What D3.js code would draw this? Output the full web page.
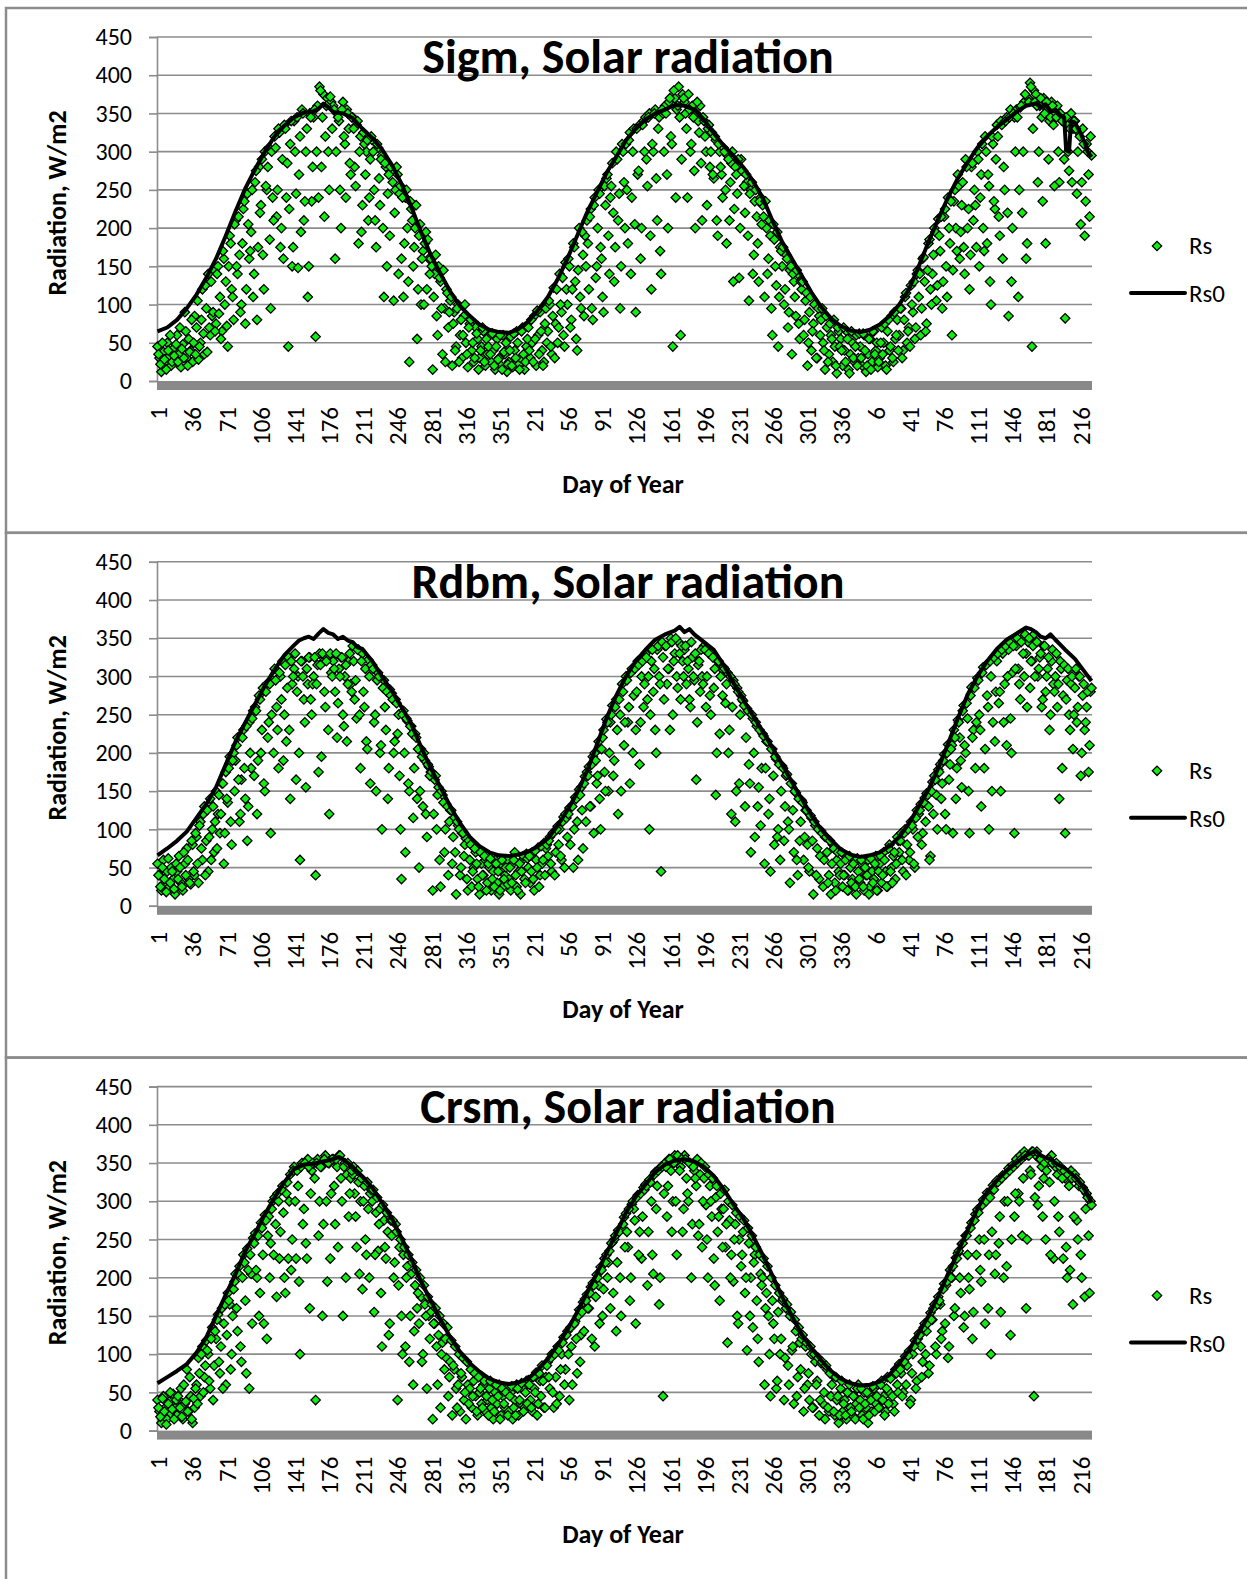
<!DOCTYPE html>
<html>
<head>
<meta charset="utf-8">
<script src="https://cdn.jsdelivr.net/npm/d3@7"></script>
<style>
  body { margin: 0; background: #fff; }
  svg text { font-family: Carlito, Lato, sans-serif; fill: #000; }
</style>
</head>
<body>
<svg id="chart" width="1247" height="1579"></svg>
<script>
// chart titles, one per panel
const titles = ["Sigm, Solar radiation", "Rdbm, Solar radiation", "Crsm, Solar radiation"];

// category labels shown every 35 days (day of year, three years in a row)
const xTickLabels = [1, 36, 71, 106, 141, 176, 211, 246, 281, 316, 351,
                     21, 56, 91, 126, 161, 196, 231, 266, 301, 336,
                     6, 41, 76, 111, 146, 181, 216];
const yTicks = [0, 50, 100, 150, 200, 250, 300, 350, 400, 450];
const nDays = 958;   // number of categories on the x axis

// measured Rs, W/m2, on even day indices (0, 2, 4, ...)
const sigmRs = [
  45,30,12,38,25,50,32,20,42,28, 60,35,18,48,90,30,55,40,25,85,
  70,28,50,120,35,95,140,60,85,145, 75,150,110,65,160,130,45,190,120,80,
  210,140,165,100,225,75,245,160,195,110, 260,80,280,230,165,300,250,305,95,240,
  320,215,330,175,290,335,240,45,310,150, 340,245,148,320,355,210,300,110,350,235,
  345,58,360,385,280,375,320,370,250,365, 360,160,350,340,200,365,310,355,330,270,
  345,280,335,180,320,230,310,300,210,290, 315,250,175,305,230,295,110,280,245,190,
  275,105,250,270,245,160,110,240,200,25, 225,150,200,55,190,100,170,180,120,160,
  160,15,140,85,150,130,35,95,120,70, 105,20,90,45,100,60,30,85,50,18,
  75,40,25,70,55,30,45,65,20,35, 60,25,40,15,55,30,20,60,35,12,
  25,58,18,40,65,22,30,70,15,45, 70,30,50,85,20,60,90,40,25,95,
  65,100,35,122,75,50,140,90,60,155, 100,150,80,180,130,40,200,95,165,190,
  210,120,225,80,240,150,250,175,110,255, 265,190,240,285,130,300,210,95,310,260,
  310,180,325,240,330,90,270,335,200,340, 345,255,350,120,300,355,210,345,140,350,
  360,270,365,320,45,370,355,385,60,375, 365,330,375,300,360,275,350,340,360,210,
  340,300,330,280,325,265,315,190,300,270, 305,250,295,210,285,130,280,245,135,290,
  275,220,260,105,250,140,235,215,130,240, 230,110,200,160,190,60,185,125,45,175,
  150,100,165,70,145,35,130,85,140,55, 120,60,105,20,90,40,75,100,30,85,
  80,50,15,70,35,60,25,45,10,65, 55,20,40,65,15,35,50,25,60,30,
  45,20,60,12,35,55,25,65,40,18, 30,70,50,20,65,40,85,25,55,80,
  60,95,40,110,50,70,125,90,55,140, 110,60,160,130,75,180,120,140,200,105,
  212,170,95,215,150,240,180,60,235,200, 270,160,230,175,290,200,120,280,210,230,
  300,150,270,200,320,180,255,100,310,225, 335,215,340,160,250,345,85,355,200,345,
  355,110,358,220,365,160,370,390,45,380, 375,260,360,345,370,180,355,340,365,335,
  350,360,260,345,340,82,335,275,350,330, 340,245,325,205,330,190,310,270,320
];
// measured Rs, W/m2, on odd day indices (1, 3, 5, ...)
const sigmRsOdd = [
  35,22,50,28,15,40,60,25,33,48, 25,70,42,30,65,20,38,80,50,35,
  105,45,80,62,125,38,70,130,90,65, 140,88,55,170,100,72,150,180,110,205,
  150,215,90,180,235,120,205,170,250,140, 275,175,220,290,120,255,280,185,300,210,
  305,250,325,200,160,330,285,225,340,175, 300,345,270,195,350,235,330,150,345,280,
  355,300,240,380,345,215,360,300,372,330, 355,300,345,250,355,320,240,350,285,345,
  330,255,340,300,195,325,270,315,240,320, 300,210,310,265,290,200,285,150,270,280,
  260,220,280,140,255,240,180,250,130,235, 210,175,230,120,205,160,100,195,185,140,
  150,110,165,60,135,95,145,25,115,90, 110,75,40,95,25,80,60,100,35,70,
  80,50,30,62,15,40,70,25,55,45, 35,62,20,45,28,60,15,38,50,22,
  40,20,62,30,50,15,65,35,25,55, 40,80,25,55,92,35,65,20,75,50,
  105,45,85,30,120,70,100,135,45,120, 160,70,120,175,55,145,110,195,85,150,
  180,215,95,230,135,200,245,160,90,230, 270,140,255,220,175,290,245,150,300,200,
  250,315,140,300,205,330,275,160,335,300, 290,345,190,310,350,265,330,170,355,300,
  350,200,370,310,380,240,360,345,290,370, 350,240,355,310,345,200,365,325,285,345,
  320,230,335,300,270,320,210,310,280,240, 300,180,290,260,300,225,270,290,200,275,
  255,270,190,245,260,165,250,180,235,205, 215,235,140,210,95,205,150,195,110,170,
  175,120,160,90,150,140,110,145,75,130, 130,80,115,50,110,65,100,30,95,60,
  95,40,85,25,75,55,80,20,70,45, 40,70,25,55,10,65,30,45,20,62,
  30,62,40,20,55,15,65,35,50,25, 50,35,75,15,80,45,30,90,60,40,
  95,30,80,115,65,45,100,130,70,145, 140,95,162,65,145,185,100,165,195,125,
  190,215,130,225,110,200,235,145,250,170, 255,195,260,140,280,225,165,285,250,175,
  290,240,310,170,300,270,130,320,235,290, 320,190,335,280,340,220,345,130,350,300,
  345,250,360,300,375,180,365,385,330,365, 360,300,370,235,350,365,290,345,360,255,
  345,300,350,340,290,345,300,330,260,340, 330,300,320,260,310,235,300,215,295
];
const rdbmRs = [
  55,40,20,60,30,45,25,50,35,15, 45,65,30,20,55,75,35,28,80,40,
  90,30,110,60,130,85,45,140,100,70, 150,120,95,160,55,175,135,195,80,200,
  190,220,110,165,230,140,85,240,180,255, 260,120,275,200,285,150,290,240,95,295,
  310,260,180,300,320,250,215,325,140,290, 310,165,300,60,320,270,155,290,325,250,
  300,40,315,330,195,320,260,325,120,305, 320,280,220,310,325,250,300,215,320,290,
  340,270,245,335,180,330,260,215,322,160, 315,240,150,305,200,100,295,230,140,283,
  278,200,270,225,170,35,255,70,242,150, 235,115,225,140,50,205,130,190,90,182,
  175,20,165,100,155,25,145,70,133,40, 125,55,115,15,105,40,95,65,88,20,
  60,25,50,70,35,15,55,40,60,30, 50,20,45,60,30,15,55,25,40,60,
  35,20,55,70,25,45,15,60,35,68, 50,30,70,20,60,76,40,55,82,75,
  65,90,45,96,70,104,100,60,116,120, 90,128,130,50,142,110,152,155,75,169,
  175,182,130,195,200,160,215,100,220,175, 244,150,240,262,190,270,120,250,290,210,
  300,240,160,310,275,230,320,185,300,260, 330,270,100,320,280,230,335,300,45,325,
  340,290,310,350,250,330,300,345,270,320, 335,290,310,260,325,295,165,315,280,300,
  340,260,335,275,330,285,145,320,225,310, 312,265,305,230,120,295,110,285,160,275,
  268,130,258,185,70,245,90,235,155,105, 225,55,215,120,45,205,80,192,100,60,
  183,85,170,110,30,160,70,148,40,85, 138,60,125,80,45,115,15,105,75,35,
  98,25,90,70,40,15,80,30,60,45, 55,25,40,65,20,50,35,60,15,45,
  30,55,20,40,60,25,45,35,65,20, 55,30,70,45,25,80,50,65,35,90,
  70,95,45,100,80,60,110,100,50,125, 120,133,95,141,147,130,65,162,170,145,
  178,185,160,198,100,211,185,210,230,140, 243,220,155,262,200,245,95,286,230,180,
  298,250,130,312,205,275,100,300,240,215, 320,265,150,330,290,210,335,245,305,95,
  340,310,270,350,300,330,345,285,320,355, 345,300,325,260,340,280,310,230,320,290,
  300,260,140,310,275,95,295,250,290,205, 285,240,300,170,275,230,260,175,280
];
const rdbmRsOdd = [
  40,25,50,35,18,62,30,45,22,55, 35,50,25,70,40,60,30,85,45,95,
  55,105,75,120,40,125,90,60,130,110, 75,145,120,160,95,140,180,110,190,150,
  210,165,120,220,180,235,130,200,245,170, 255,190,270,230,160,280,220,290,250,200,
  295,230,305,270,190,315,285,230,320,300, 330,280,200,320,300,240,310,325,270,290,
  325,290,175,315,330,280,320,230,330,300, 310,330,265,300,325,235,315,290,330,280,
  320,295,335,250,320,280,310,205,300,315, 310,250,295,300,210,285,260,280,180,275,
  270,215,265,250,100,250,200,245,160,235, 225,180,220,205,150,195,200,120,185,170,
  175,120,170,145,60,150,135,100,130,110, 125,90,70,110,100,50,95,80,35,85,
  80,45,75,55,25,70,40,65,20,55, 62,35,25,55,45,20,60,35,50,28,
  50,30,60,40,20,55,45,65,30,62, 65,45,35,72,50,25,78,60,40,80,
  85,55,95,40,100,80,65,110,50,115, 120,80,130,100,140,60,145,125,160,110,
  170,130,185,95,190,170,140,205,230,150, 240,200,250,170,260,230,270,150,280,240,
  295,260,305,200,310,280,315,240,320,290, 325,300,250,335,310,200,340,290,345,270,
  340,310,230,345,320,350,285,330,340,300, 340,320,270,345,300,330,240,320,335,290,
  335,300,330,250,325,310,200,320,300,275, 310,290,200,300,260,290,150,280,250,270,
  262,220,255,160,250,200,240,130,230,180, 222,180,215,140,205,170,195,90,185,150,
  180,130,172,100,160,125,150,60,140,110, 135,90,125,50,118,85,110,40,100,65,
  95,60,90,30,85,55,75,20,70,40, 70,40,60,20,65,30,55,25,62,35,
  60,25,50,40,15,62,30,55,20,45, 65,40,60,25,75,45,30,70,55,85,
  85,60,95,40,100,70,105,55,115,90, 125,80,135,110,145,60,150,120,165,100,
  175,140,190,120,200,165,205,95,220,180, 240,190,255,210,265,150,275,220,285,240,
  295,230,305,180,315,260,320,150,325,280, 330,280,335,240,340,300,345,200,340,310,
  350,290,345,330,355,260,350,320,340,300, 345,310,330,270,340,300,325,250,335,280,
  330,290,320,180,315,270,310,230,300,250, 310,260,300,200,290,240,280,210,285
];
const crsmRs = [
  40,25,10,45,30,15,38,22,48,30, 20,40,55,15,35,80,25,45,10,30,
  60,95,45,110,70,118,100,55,135,85, 120,152,75,160,140,60,180,165,100,185,
  205,130,215,90,230,170,238,55,205,252, 258,200,150,272,230,282,120,280,245,300,
  305,175,300,260,320,200,310,225,335,250, 345,225,320,100,350,290,245,355,160,340,
  350,40,355,300,345,270,360,195,350,310, 355,270,345,360,330,150,350,335,280,330,
  335,310,240,325,300,185,320,230,290,310, 300,155,285,235,290,110,275,225,260,140,
  255,200,270,40,240,150,230,110,215,90, 205,60,190,160,140,175,100,165,55,150,
  155,15,140,110,125,30,115,80,95,45, 90,20,80,55,60,25,70,40,15,60,
  55,30,65,45,20,50,35,60,25,40, 55,30,15,50,35,60,20,45,30,55,
  25,50,15,40,60,20,35,55,30,65, 66,40,25,55,76,35,65,85,30,70,
  90,55,100,30,70,110,45,100,122,80, 130,40,110,138,143,75,158,125,168,172,
  178,160,188,193,110,204,190,214,150,225, 230,220,160,246,250,130,262,200,265,279,
  284,240,170,296,290,140,308,260,225,318, 322,190,328,300,205,338,320,165,345,45,
  350,280,355,340,300,360,230,355,345,260, 360,330,300,350,270,340,320,255,335,240,
  330,295,200,320,280,225,305,260,170,290, 290,240,115,275,230,195,270,150,250,215,
  260,180,105,245,200,135,230,170,90,205, 200,60,180,150,45,170,120,55,155,100,
  170,40,160,85,150,105,35,130,70,115, 120,25,110,60,40,100,30,90,65,20,
  88,35,15,80,25,45,72,20,40,10, 55,25,40,15,50,30,20,45,35,60,
  40,20,50,30,10,45,25,55,35,60, 30,65,45,25,70,50,70,35,80,60,
  87,75,50,97,85,104,40,100,118,65, 127,110,90,140,130,75,154,145,165,100,
  175,165,130,192,190,95,210,200,150,226, 232,200,244,135,255,230,185,272,155,283,
  289,250,195,302,140,311,230,100,321,205, 327,245,155,334,300,215,343,125,347,280,
  355,310,360,255,365,160,360,340,365,45, 360,295,355,345,330,250,350,325,360,225,
  345,335,260,340,225,330,200,320,340,165, 335,275,320,230,318,175,310,255,300
];
const crsmRsOdd = [
  30,18,42,25,8,35,50,28,15,40, 45,30,18,60,38,25,70,15,42,55,
  35,75,100,50,85,105,65,120,40,130, 145,90,110,55,165,125,170,80,150,195,
  160,205,110,200,220,75,210,230,140,245, 210,255,180,265,140,275,255,200,290,230,
  270,310,225,315,285,180,325,300,210,340, 300,340,195,345,270,350,225,345,310,350,
  330,350,255,345,150,355,300,350,225,355, 320,355,240,360,300,345,200,350,310,340,
  345,280,340,205,330,300,250,325,200,315, 315,230,305,270,180,295,240,285,125,275,
  275,220,260,190,250,100,240,200,230,150, 220,130,210,180,200,90,190,150,175,120,
  165,140,160,60,150,100,140,120,135,70, 118,85,110,30,100,75,95,50,90,35,
  80,45,75,25,70,55,30,65,45,20, 65,40,25,60,45,15,55,35,50,20,
  45,58,30,20,55,40,62,25,50,35, 60,30,70,50,20,75,45,65,30,85,
  70,95,50,100,35,105,80,115,60,125, 100,135,60,140,120,150,90,155,130,170,
  160,180,120,190,175,200,140,210,185,220, 200,235,245,180,255,220,260,150,270,240,
  260,290,200,300,275,305,230,310,280,315, 320,260,325,230,335,290,340,200,345,310,
  345,320,355,260,350,300,360,340,355,290, 355,310,350,200,345,330,355,270,350,300,
  345,250,335,300,330,190,320,280,310,240, 315,270,300,200,295,250,285,140,280,230,
  275,200,265,150,255,220,240,120,230,190, 225,160,215,100,200,140,190,65,180,120,
  172,95,165,60,155,110,145,45,135,80, 125,55,115,75,110,30,100,60,95,40,
  90,50,85,30,75,60,25,70,45,20, 65,35,20,50,60,25,45,15,55,30,
  55,15,35,50,20,40,58,25,45,30, 60,40,20,55,35,68,45,25,75,50,
  80,45,90,60,98,35,75,110,55,120, 125,70,135,100,140,85,145,160,110,165,
  170,120,185,140,195,110,200,215,160,225, 235,180,245,150,255,200,265,120,275,230,
  285,210,295,250,300,160,305,260,315,230, 325,280,330,200,335,300,340,250,345,310,
  350,300,355,330,360,250,360,335,365,305, 365,320,355,280,350,340,355,230,350,300,
  350,280,345,330,340,240,335,210,330,280, 330,250,325,200,315,290,305,180,295
];

// clear-sky Rs0, [day index, W/m2]
const sigmRs0 = [[0,65],[10,70],[20,80],[30,95],[40,113],[50,135],[60,160],[70,190],[80,222],[90,252],
  [100,277],[110,300],[120,320],[130,334],[140,345],[150,351],[160,353],[165,356],[170,363],[175,358],
  [180,352],[190,350],[200,344],[210,330],[220,318],[230,303],[240,283],[250,258],[260,228],[270,195],
  [280,165],[290,140],[300,117],[310,98],[320,85],[330,74],[340,67],[350,64],[360,63],[370,68],
  [380,78],[390,93],[400,110],[410,133],[420,160],[430,190],[440,220],[450,246],[460,272],[470,293],
  [480,315],[490,330],[500,342],[510,350],[520,355],[530,361],[540,360],[550,355],[560,342],[570,324],
  [580,308],[590,295],[600,280],[610,262],[620,240],[630,210],[640,182],[650,160],[660,138],[670,116],
  [680,97],[690,82],[700,72],[710,66],[720,64],[730,67],[740,74],[750,85],[760,100],[770,120],
  [780,150],[790,182],[800,212],[810,240],[820,265],[830,286],[840,305],[850,320],[860,332],[870,342],
  [880,352],[890,360],[900,363],[905,358],[910,362],[915,352],[920,355],[925,348],[929,345],[931,302],
  [934,300],[936,340],[940,338],[945,326],[950,312],[953,300],[957,293]];
const rdbmRs0 = [[0,66],[10,75],[20,85],[30,97],[40,115],[50,133],[60,155],[70,185],[80,215],[90,240],
  [100,264],[110,288],[120,309],[130,328],[140,341],[145,347],[150,350],[155,352],[160,349],[165,356],
  [170,362],[175,357],[180,355],[185,349],[190,352],[195,347],[200,345],[205,338],[210,336],[220,320],
  [230,300],[240,281],[250,260],[260,238],[270,208],[280,180],[290,155],[300,130],[310,108],[320,90],
  [330,78],[340,70],[350,66],[360,65],[370,67],[380,71],[390,78],[400,88],[410,105],[420,125],
  [430,148],[440,176],[450,210],[460,245],[470,275],[480,300],[490,320],[500,335],[510,348],[520,355],
  [530,360],[535,365],[540,358],[545,362],[550,355],[560,345],[570,335],[580,315],[590,292],[600,270],
  [610,249],[620,228],[630,207],[640,185],[650,162],[660,140],[670,118],[680,100],[690,86],[700,74],
  [710,67],[720,64],[730,66],[740,70],[750,78],[760,90],[770,108],[780,130],[790,152],[800,180],
  [810,212],[820,245],[830,276],[840,300],[850,320],[860,336],[870,348],[880,356],[890,364],[895,362],
  [900,358],[905,352],[910,350],[915,355],[920,348],[930,335],[940,323],[950,306],[957,294]];
const crsmRs0 = [[0,62],[10,70],[20,78],[30,87],[40,102],[50,122],[60,150],[70,178],[80,205],[90,235],
  [100,258],[110,283],[120,305],[130,325],[140,342],[150,348],[160,349],[170,352],[180,355],[186,358],
  [190,355],[200,345],[210,332],[220,318],[230,298],[240,278],[250,252],[260,225],[270,195],[280,170],
  [290,145],[300,122],[310,103],[320,88],[330,77],[340,68],[350,63],[360,61],[370,63],[380,68],
  [390,80],[400,94],[410,112],[420,132],[430,155],[440,180],[450,205],[460,232],[470,258],[480,285],
  [490,306],[500,322],[510,338],[520,348],[530,353],[540,355],[550,352],[560,345],[570,333],[580,316],
  [590,296],[600,278],[610,255],[620,230],[630,203],[640,175],[650,150],[660,126],[670,108],[680,92],
  [690,78],[700,68],[710,62],[720,59],[730,60],[740,64],[750,73],[760,88],[770,105],[780,128],
  [790,150],[800,176],[810,205],[820,233],[830,262],[840,290],[850,312],[860,327],[870,340],[880,350],
  [890,360],[900,366],[905,360],[910,357],[915,355],[920,350],[930,343],[940,332],[948,320],[957,298]];

// [day index, value] pairs for the Rs scatter, from the even and odd day lists
const rsPoints = (even, odd) =>
  even.map((v, k) => [2 * k, v]).concat(odd.map((v, k) => [2 * k + 1, v]));

const panels = [
  { title: titles[0], rs: rsPoints(sigmRs, sigmRsOdd), rs0: sigmRs0 },
  { title: titles[1], rs: rsPoints(rdbmRs, rdbmRsOdd), rs0: rdbmRs0 },
  { title: titles[2], rs: rsPoints(crsmRs, crsmRsOdd), rs0: crsmRs0 }
];

const panelH = 524.8;
const plot = { left: 157, right: 1092, top: 37, bottom: 381 };
const gridColor = "#8c8c8c";
const green = "#0fef0f";

const svg = d3.select("#chart");

const x = d3.scaleLinear().domain([0, nDays]).range([plot.left, plot.right]);
const y = d3.scaleLinear().domain([0, 450]).range([plot.bottom, plot.top]);

const diamond = d3.symbol().type(d3.symbolSquare).size(44);

const line = d3.line()
  .x(d => x(d[0] + 0.5))
  .y(d => y(d[1]));

panels.forEach((p, k) => {
  const g = svg.append("g").attr("transform", `translate(0,${k * panelH})`);

  // panel frame
  g.append("rect")
    .attr("x", 6).attr("y", 8)
    .attr("width", 1400).attr("height", panelH)
    .attr("fill", "none")
    .attr("stroke", gridColor)
    .attr("stroke-width", 2.5);

  // horizontal gridlines
  g.append("g").selectAll("line")
    .data(yTicks.filter(t => t > 0))
    .join("line")
      .attr("x1", plot.left).attr("x2", plot.right)
      .attr("y1", d => y(d)).attr("y2", d => y(d))
      .attr("stroke", gridColor)
      .attr("stroke-width", 1.6);

  // y axis
  const yAxis = g.append("g")
    .attr("transform", `translate(${plot.left},0)`)
    .call(d3.axisLeft(y).tickValues(yTicks).tickSize(8).tickPadding(17));
  yAxis.select(".domain").attr("stroke", gridColor).attr("stroke-width", 1.6);
  yAxis.selectAll(".tick line").attr("stroke", gridColor).attr("stroke-width", 1.6);
  yAxis.selectAll(".tick text")
    .attr("font-size", 24)
    .attr("font-family", "Carlito, Lato, sans-serif");

  // grey floor under zero
  g.append("rect")
    .attr("x", plot.left).attr("y", y(0))
    .attr("width", plot.right - plot.left).attr("height", 9)
    .attr("fill", "#898989");

  // x category labels, rotated
  g.append("g").selectAll("text")
    .data(xTickLabels)
    .join("text")
      .attr("transform", (d, i) => `translate(${x(i * 35 + 0.5) + 1},${plot.bottom + 26}) rotate(-90)`)
      .attr("text-anchor", "end")
      .attr("dy", "0.35em")
      .attr("font-size", 25)
      .text(d => d);

  // Rs points
  g.append("g").selectAll("path")
    .data(p.rs)
    .join("path")
      .attr("d", diamond)
      .attr("transform", d => `translate(${x(d[0] + 0.5)},${y(d[1])}) rotate(45)`)
      .attr("fill", green)
      .attr("stroke", "#000")
      .attr("stroke-width", 1.3);

  // Rs0 line, drawn over the points
  g.append("path")
    .datum(p.rs0)
    .attr("fill", "none")
    .attr("stroke", "#000")
    .attr("stroke-width", 4)
    .attr("stroke-linejoin", "round")
    .attr("d", line);

  // title
  g.append("text")
    .attr("x", 628).attr("y", 73)
    .attr("text-anchor", "middle")
    .attr("font-size", 48)
    .attr("font-weight", "bold")
    .text(p.title);

  // axis titles
  g.append("text")
    .attr("transform", `translate(57,${(plot.top + plot.bottom) / 2 - 6}) rotate(-90)`)
    .attr("text-anchor", "middle")
    .attr("dy", "0.35em")
    .attr("font-size", 26)
    .attr("font-weight", "bold")
    .text("Radiation, W/m2");

  g.append("text")
    .attr("x", 623).attr("y", 493)
    .attr("text-anchor", "middle")
    .attr("font-size", 26)
    .attr("font-weight", "bold")
    .text("Day of Year");

  // legend
  const lg = g.append("g");
  lg.append("path")
    .attr("d", diamond)
    .attr("transform", "translate(1157,246) rotate(45)")
    .attr("fill", green)
    .attr("stroke", "#000")
    .attr("stroke-width", 1.3);
  lg.append("text").attr("x", 1189).attr("y", 254).attr("font-size", 25).text("Rs");
  lg.append("line")
    .attr("x1", 1131).attr("x2", 1185)
    .attr("y1", 293).attr("y2", 293)
    .attr("stroke", "#000").attr("stroke-width", 4)
    .attr("stroke-linecap", "round");
  lg.append("text").attr("x", 1189).attr("y", 302).attr("font-size", 25).text("Rs0");
});
</script>
</body>
</html>
